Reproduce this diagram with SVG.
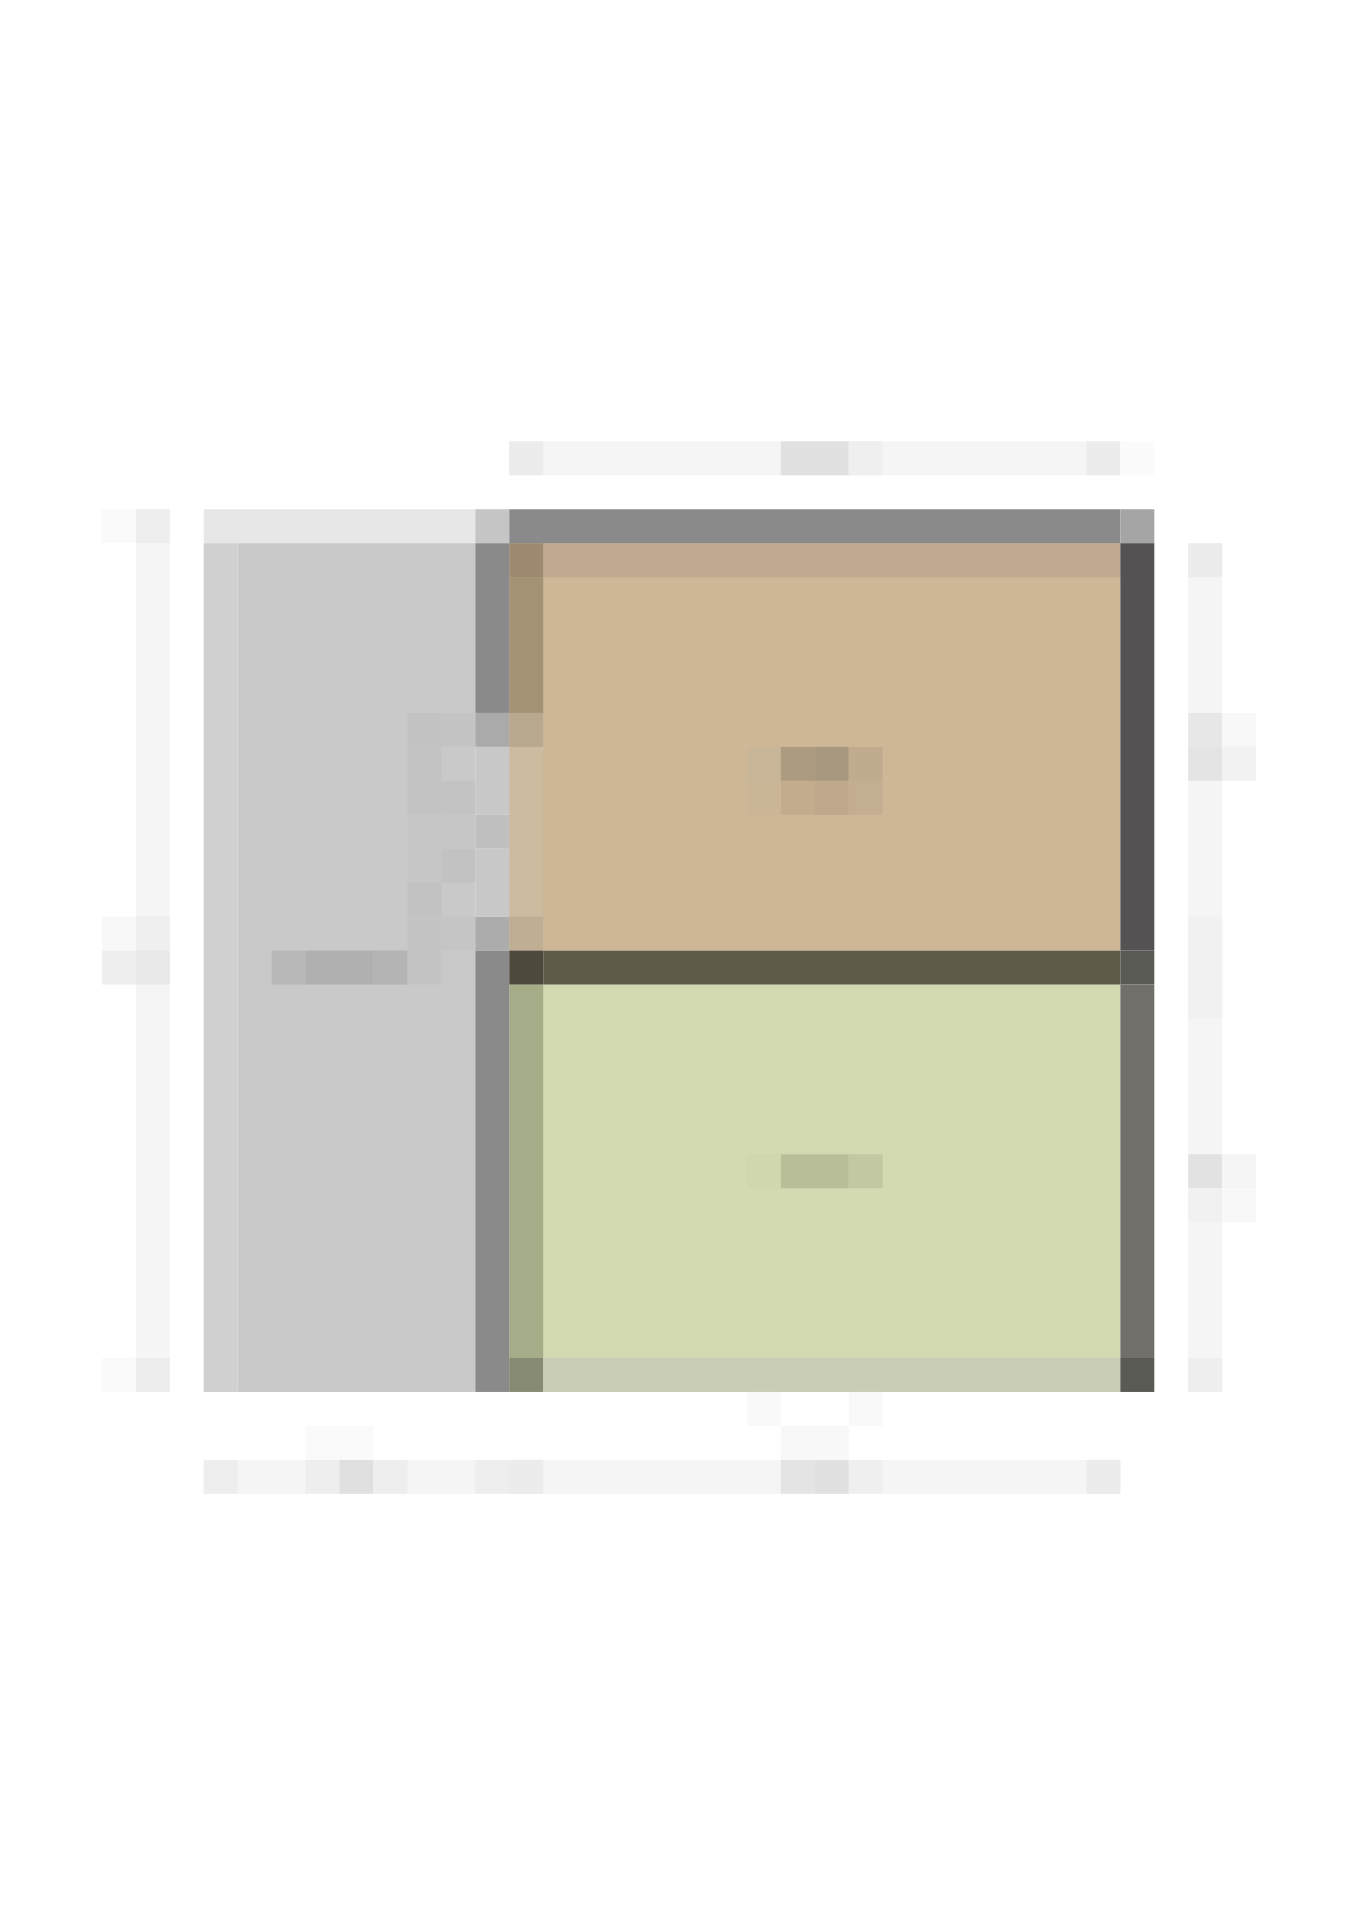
<svg xmlns="http://www.w3.org/2000/svg" width="1358" height="1920" viewBox="0 0 1358 1920">
<style>
.dim{fill:#f5f5f5}
.wall{fill:#8a8a8a}
.tan{fill:#cdb797}
.green{fill:#d3d9b0}
.grey{fill:#c9c9c9}
</style>
<rect width="1358" height="1920" fill="#ffffff"/>
<g transform="scale(33.95)">
  <g id="room-left">
    <rect x="6" y="15" width="8" height="1" fill="#e7e7e7"/>
    <rect x="6" y="16" width="1" height="25" fill="#d0d0d0"/>
    <rect class="grey" x="7" y="16" width="7" height="25"/>
    <g id="door-swing">
      <rect x="12" y="21" width="1" height="1" fill="#c2c2c2"/>
      <rect x="13" y="21" width="1" height="1" fill="#c4c4c4"/>
      <rect x="12" y="22" width="1" height="2" fill="#c3c3c3"/>
      <rect x="13" y="23" width="1" height="1" fill="#c3c3c3"/>
      <rect x="12" y="24" width="2" height="1" fill="#c6c6c6"/>
      <rect x="12" y="25" width="1" height="1" fill="#c6c6c6"/>
      <rect x="13" y="25" width="1" height="1" fill="#c2c2c2"/>
      <rect x="12" y="26" width="1" height="1" fill="#c2c2c2"/>
      <rect x="12" y="27" width="1" height="2" fill="#c4c4c4"/>
      <rect x="13" y="27" width="1" height="1" fill="#c5c5c5"/>
    </g>
    <g id="label-left">
      <rect x="8" y="28" width="1" height="1" fill="#b8b8b8"/>
      <rect x="9" y="28" width="2" height="1" fill="#b0b0b0"/>
      <rect x="11" y="28" width="1" height="1" fill="#b4b4b4"/>
    </g>
  </g>
  <g id="room-top">
    <rect class="tan" x="15" y="16" width="18" height="12"/>
    <rect x="16" y="16" width="17" height="1" fill="#c1aa8f"/>
    <rect x="15" y="16" width="1" height="1" fill="#9e8a6e"/>
    <rect x="15" y="17" width="1" height="4" fill="#a39274"/>
    <rect x="15" y="21" width="1" height="1" fill="#b8a88e"/>
    <rect x="15" y="22" width="1" height="5" fill="#cdbba0"/>
    <rect x="15" y="27" width="1" height="1" fill="#c0ae94"/>
    <g id="label-top">
      <rect x="22" y="22" width="1" height="1" fill="#c9b699"/>
      <rect x="23" y="22" width="1" height="1" fill="#ad9b7f"/>
      <rect x="24" y="22" width="1" height="1" fill="#a89880"/>
      <rect x="25" y="22" width="1" height="1" fill="#c0ab8e"/>
      <rect x="22" y="23" width="1" height="1" fill="#cab597"/>
      <rect x="23" y="23" width="1" height="1" fill="#c3ab8e"/>
      <rect x="24" y="23" width="1" height="1" fill="#bfa88b"/>
      <rect x="25" y="23" width="1" height="1" fill="#c4ae91"/>
    </g>
  </g>
  <g id="room-bottom">
    <rect class="green" x="15" y="29" width="18" height="12"/>
    <rect x="15" y="29" width="1" height="11" fill="#a5ad88"/>
    <rect x="15" y="40" width="1" height="1" fill="#878b73"/>
    <rect x="16" y="40" width="17" height="1" fill="#cacdb5"/>
    <g id="label-bottom">
      <rect x="22" y="34" width="1" height="1" fill="#d0d6ae"/>
      <rect x="23" y="34" width="2" height="1" fill="#b8be98"/>
      <rect x="25" y="34" width="1" height="1" fill="#c2c8a2"/>
    </g>
  </g>
  <g id="walls">
    <rect x="14" y="15" width="1" height="1" fill="#c5c5c5"/>
    <rect class="wall" x="14" y="16" width="1" height="5"/>
    <rect x="14" y="21" width="1" height="1" fill="#aaaaaa"/>
    <rect x="14" y="22" width="1" height="2" fill="#c8c8c8"/>
    <rect x="14" y="24" width="1" height="1" fill="#bfbfbf"/>
    <rect x="14" y="25" width="1" height="2" fill="#c8c8c8"/>
    <rect x="14" y="27" width="1" height="1" fill="#acacac"/>
    <rect class="wall" x="14" y="28" width="1" height="13"/>
    <rect class="wall" x="15" y="15" width="18" height="1"/>
    <rect x="33" y="15" width="1" height="1" fill="#a5a5a5"/>
    <rect x="33" y="16" width="1" height="12" fill="#545252"/>
    <rect x="33" y="28" width="1" height="1" fill="#5a5a55"/>
    <rect x="33" y="29" width="1" height="11" fill="#706f6a"/>
    <rect x="33" y="40" width="1" height="1" fill="#5a5a55"/>
    <rect x="15" y="28" width="1" height="1" fill="#4d493c"/>
    <rect x="16" y="28" width="17" height="1" fill="#5f5b4a"/>
  </g>
  <g id="connectors">
    <g id="dim-top">
      <rect class="dim" x="15" y="13" width="18" height="1"/>
      <rect x="15" y="13" width="1" height="1" fill="#ececec"/>
      <rect x="23" y="13" width="2" height="1" fill="#e1e1e1"/>
      <rect x="25" y="13" width="1" height="1" fill="#efefef"/>
      <rect x="32" y="13" width="1" height="1" fill="#ececec"/>
      <rect x="33" y="13" width="1" height="1" fill="#fbfbfb"/>
    </g>
    <g id="dim-left">
      <rect class="dim" x="4" y="15" width="1" height="26"/>
      <rect x="4" y="15" width="1" height="1" fill="#eeeeee"/>
      <rect x="4" y="27" width="1" height="1" fill="#efefef"/>
      <rect x="4" y="28" width="1" height="1" fill="#e8e8e8"/>
      <rect x="3" y="27" width="1" height="1" fill="#f8f8f8"/>
      <rect x="3" y="28" width="1" height="1" fill="#eeeeee"/>
      <rect x="4" y="40" width="1" height="1" fill="#ededed"/>
      <rect x="3" y="15" width="1" height="1" fill="#fafafa"/>
      <rect x="3" y="40" width="1" height="1" fill="#fafafa"/>
    </g>
    <g id="dim-right">
      <rect class="dim" x="35" y="16" width="1" height="25"/>
      <rect x="35" y="16" width="1" height="1" fill="#ececec"/>
      <rect x="35" y="21" width="1" height="1" fill="#e7e7e7"/>
      <rect x="36" y="21" width="1" height="1" fill="#f8f8f8"/>
      <rect x="35" y="22" width="1" height="1" fill="#e4e4e4"/>
      <rect x="36" y="22" width="1" height="1" fill="#f2f2f2"/>
      <rect x="35" y="27" width="1" height="3" fill="#f1f1f1"/>
      <rect x="35" y="34" width="1" height="1" fill="#e2e2e2"/>
      <rect x="36" y="34" width="1" height="1" fill="#f5f5f5"/>
      <rect x="35" y="35" width="1" height="1" fill="#f1f1f1"/>
      <rect x="36" y="35" width="1" height="1" fill="#f8f8f8"/>
      <rect x="35" y="40" width="1" height="1" fill="#eeeeee"/>
    </g>
    <g id="dim-bottom">
      <rect class="dim" x="6" y="43" width="27" height="1"/>
      <rect x="6" y="43" width="1" height="1" fill="#eeeeee"/>
      <rect x="9" y="43" width="1" height="1" fill="#eeeeee"/>
      <rect x="10" y="43" width="1" height="1" fill="#e0e0e0"/>
      <rect x="11" y="43" width="1" height="1" fill="#eeeeee"/>
      <rect x="14" y="43" width="1" height="1" fill="#eeeeee"/>
      <rect x="15" y="43" width="1" height="1" fill="#ececec"/>
      <rect x="23" y="43" width="1" height="1" fill="#e4e4e4"/>
      <rect x="24" y="43" width="1" height="1" fill="#e0e0e0"/>
      <rect x="25" y="43" width="1" height="1" fill="#efefef"/>
      <rect x="32" y="43" width="1" height="1" fill="#ececec"/>
      <rect x="9" y="42" width="2" height="1" fill="#fafafa"/>
      <rect x="23" y="42" width="2" height="1" fill="#f8f8f8"/>
      <rect x="22" y="41" width="1" height="1" fill="#f9f9f9"/>
      <rect x="25" y="41" width="1" height="1" fill="#f9f9f9"/>
    </g>
  </g>
</g>
</svg>
